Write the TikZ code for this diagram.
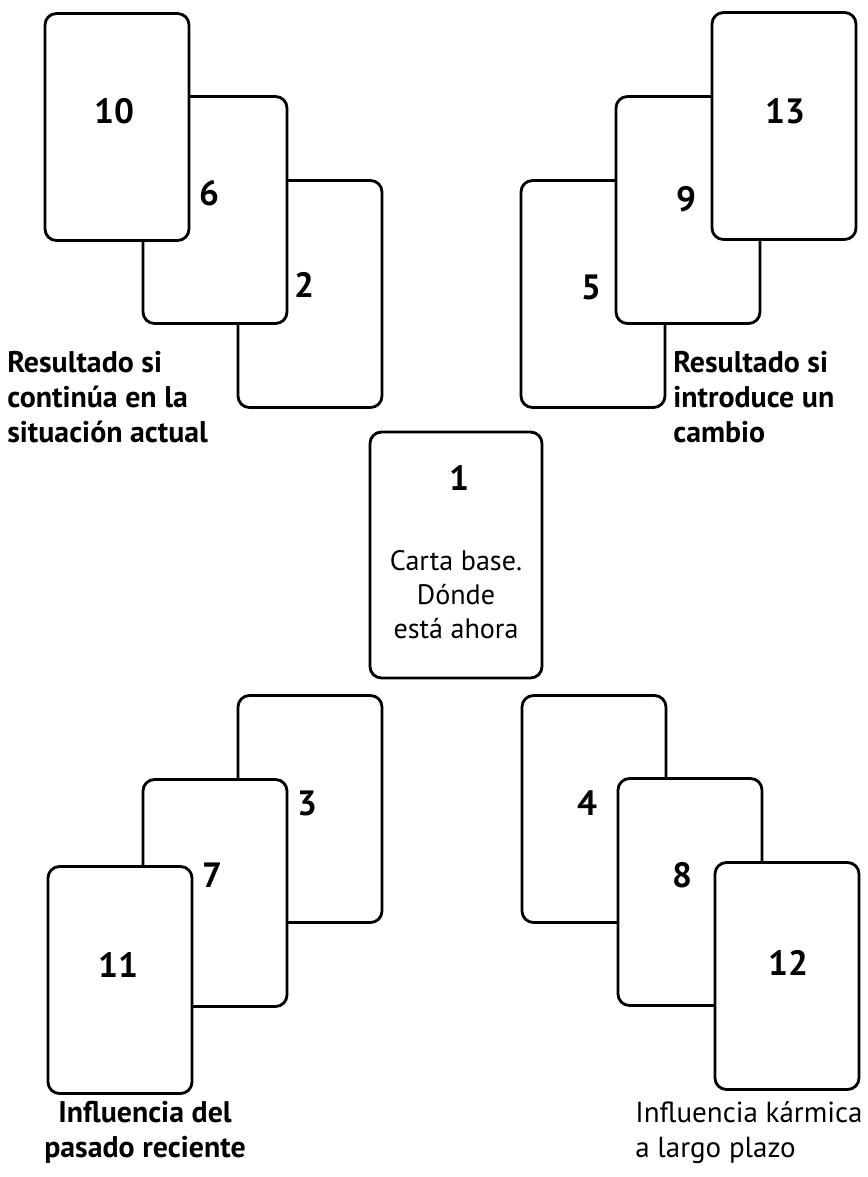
\documentclass[tikz,border=0pt]{standalone}
\usepackage{fontspec}
\setmainfont{PT Sans}
\usepackage{tikz}

\begin{document}
\begin{tikzpicture}[x=0.02cm, y=-0.02cm,
    card/.style={draw, line width=1.6pt, fill=white, rounded corners=6.5pt,
        minimum width=2.88cm, minimum height=4.54cm, inner sep=0pt},
    num/.style={inner sep=0pt, font=\fontsize{20}{22}\selectfont\bfseries},
    caption/.style={inner sep=0pt, align=left, anchor=north west,
        font=\fontsize{17}{19.9}\selectfont\bfseries}]
    \useasboundingbox (0, 0) rectangle (868, 1177); % page

    % the four piles, back card first
    \foreach \k/\x/\y/\u/\v in {2/310/294/304/285, 6/215/210/209/193, 10/117/127/114/111,
            5/593/294/591/287, 9/688/210/686/199, 13/784/126/785/111,
            3/310/809/307/803, 7/215/893/212/875, 11/120/980/118/965,
            4/594/809/587/803, 8/690/892/682/875, 12/787/976/788/963}{
        \node[card] (c\k) at (\x, \y) {};
        \node[num] (n\k) at (\u, \v) {\k};
    }

    % base card
    \node[card, minimum width=3.44cm, minimum height=4.92cm] (c1) at (456, 555) {};
    \node[num] (n1) at (459, 478) {1};
    \node[inner sep=0pt, align=center, anchor=north,
        font=\fontsize{16}{19.3}\selectfont] (t1) at (456, 550)
        {Carta base.\\Dónde\\está ahora};

    \node[caption] (tl) at (7, 351) {Resultado si\\continúa en la\\situación actual};
    \node[caption] (tr) at (673, 351) {Resultado si\\introduce un\\cambio};
    \node[caption, align=center, anchor=north] (bl) at (145, 1101)
        {Influencia del\\pasado reciente};
    \node[caption, font=\fontsize{16.5}{19.9}\selectfont] (br) at (635, 1101)
        {Influencia kármica\\a largo plazo};
\end{tikzpicture}
\end{document}
